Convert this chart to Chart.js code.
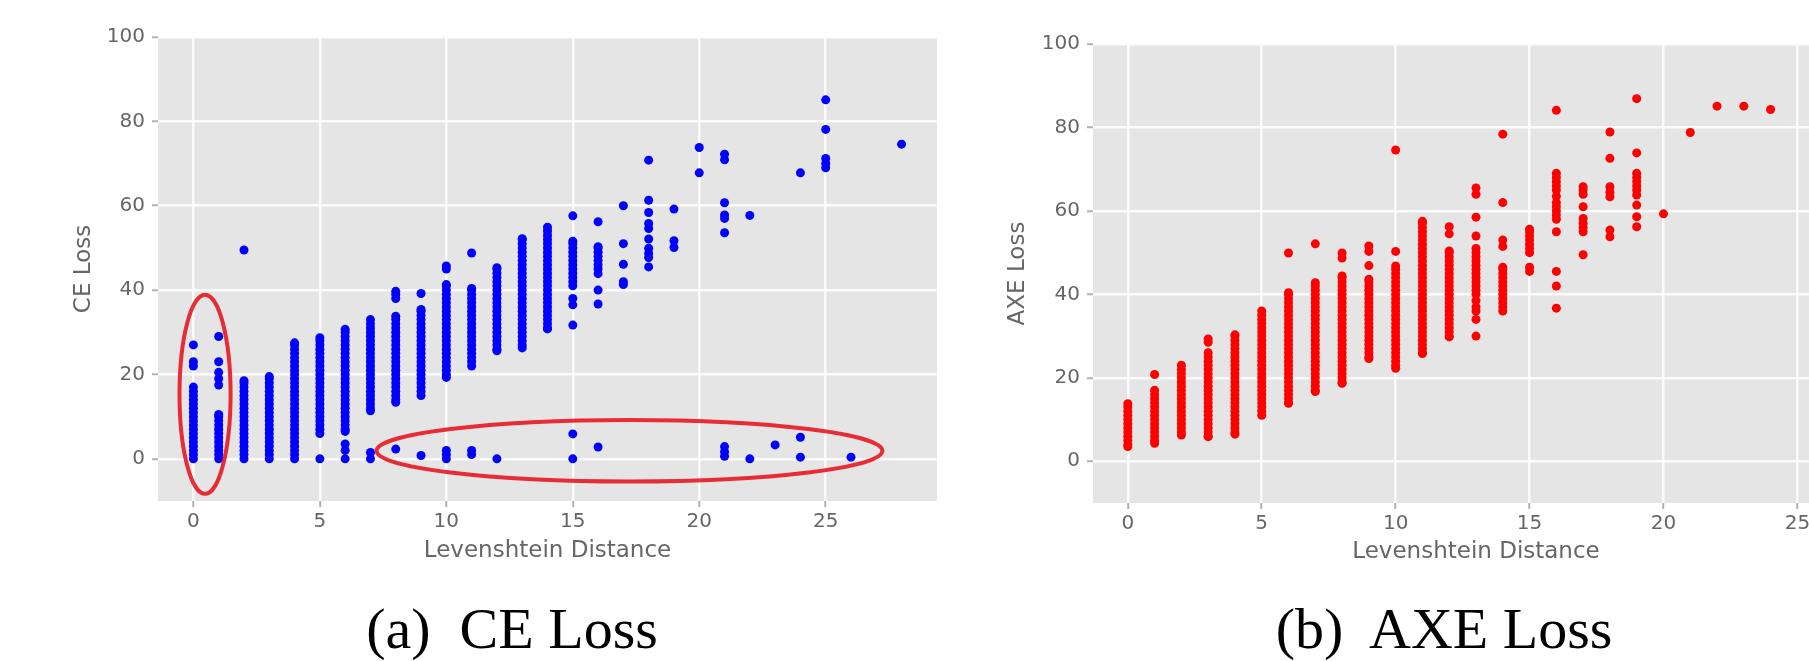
<!DOCTYPE html>
<html>
<head>
<meta charset="utf-8">
<title>CE Loss vs AXE Loss</title>
<script src="https://cdn.jsdelivr.net/npm/chart.js@4.4.1/dist/chart.umd.min.js"></script>
<style>
  html, body { margin: 0; padding: 0; background: #fff; }
  body { width: 1809px; height: 661px; overflow: hidden; position: relative; }
  .panel { position: absolute; top: 0; height: 580px; }
  #left { left: 0; width: 950px; }
  #right { left: 960px; width: 910px; }
  .caption {
    position: absolute; top: 600px; width: 600px; text-align: center;
    font-family: "Liberation Serif", "Times New Roman", serif;
    font-size: 58px; line-height: 58px; white-space: pre; color: #000;
  }
</style>
</head>
<body>
<div class="panel" id="left"><canvas id="ceChart"></canvas></div>
<div class="panel" id="right"><canvas id="axeChart"></canvas></div>
<div class="caption" style="left:212px">(a)  CE Loss</div>
<div class="caption" style="left:1144px">(b)  AXE Loss</div>
<script>
// values, one list of losses per Levenshtein distance
const ceDistance = [0,1,2,3,4,5,6,7,8,9,10,11,12,13,14,15,16,17,18,19,20,21,22,23,24,25,26,28];
const ceLoss = [
  [0,1,2,3,4,5,6,7,8,9,10,11,12,13,14,15,16,17,22,23,27],
  [0,1,2,3,4,5,6,7,8,9,10,10.5,17.5,19,20.5,23,29],
  [0,1,2,3,4,5,6,7,8,9,10,11,12,13,14,15,16,17,18,18.5,49.5],
  [0,1,2,3,4,5,6,7,8,9,10,11,12,13,14,15,16,17,18,19,19.5],
  [0,1,2,3,4,5,6,7,8,9,10,11,12,13,14,15,16,17,18,19,20,21,22,23,24,25,26,27,27.5],
  [0,6,7,8,9,10,11,12,13,14,15,16,17,18,19,20,21,22,23,24,25,26,27,28,28.7],
  [0,2,3.5,6.5,7,8,9,10,11,12,13,14,15,16,17,18,19,20,21,22,23,24,25,26,27,28,29,30,30.7],
  [0,1.5,11.4,12,13,14,15,16,17,18,19,20,21,22,23,24,25,26,27,28,29,30,31,32,33],
  [2.3,13.4,14,15,16,17,18,19,20,21,22,23,24,25,26,27,28,29,30,31,32,33,33.8,38,39,39.7],
  [0.8,15,16,17,18,19,20,21,22,23,24,25,26,27,28,29,30,31,32,33,34,35,35.4,39.2],
  [0,1,2,19.3,20,21,22,23,24,25,26,27,28,29,30,31,32,33,34,35,36,37,38,39,40,41,41.3,45,45.7],
  [1,2,22,23,24,25,26,27,28,29,30,31,32,33,34,35,36,37,38,39,40,40.4,48.8],
  [0,25.6,26,27,28,29,30,31,32,33,34,35,36,37,38,39,40,41,42,43,44,45,45.3],
  [26.3,27,28,29,30,31,32,33,34,35,36,37,38,39,40,41,42,43,44,45,46,47,48,49,50,51,52,52.2],
  [30.8,31,32,33,34,35,36,37,38,39,40,41,42,43,44,45,46,47,48,49,50,51,52,53,54,54.9],
  [0,5.9,31.7,36.5,38,41,42,43,44,45,46,47,48,49,50,51,51.6,57.6],
  [2.8,36.7,40,43.9,45,46,47,48,49,50,50.3,56.2],
  [41.3,42,46.1,51,60],
  [45.5,47.7,48.7,49.9,52.1,54.6,55.8,58.4,61.3,70.8],
  [50.1,51.7,59.2],
  [67.8,73.8],
  [0.6,1.7,2.9,53.6,57,57.8,60.7,70.9,72.2],
  [0,57.7],
  [3.3],
  [0.4,5.1,67.8],
  [69,70,71.2,78.1,85.1],
  [0.4],
  [74.6]
];

const axeDistance = [0,1,2,3,4,5,6,7,8,9,10,11,12,13,14,15,16,17,18,19,20,21,22,23,24];
const axeLoss = [
  [3.5,4,5,6,7,8,9,10,11,12,13,13.8],
  [4.3,5,6,7,8,9,10,11,12,13,14,15,16,17,20.8],
  [6.3,7,8,9,10,11,12,13,14,15,16,17,18,19,20,21,22,23],
  [5.9,6,7,8,9,10,11,12,13,14,15,16,17,18,19,20,21,22,23,24,25,26,28.5,29.3],
  [6.5,7,8,9,10,11,12,13,14,15,16,17,18,19,20,21,22,23,24,25,26,27,28,29,30,30.3],
  [11,12,13,14,15,16,17,18,19,20,21,22,23,24,25,26,27,28,29,30,31,32,33,34,35,36],
  [13.9,14,15,16,17,18,19,20,21,22,23,24,25,26,27,28,29,30,31,32,33,34,35,36,37,38,39,40,40.4,49.9],
  [16.7,17,18,19,20,21,22,23,24,25,26,27,28,29,30,31,32,33,34,35,36,37,38,39,40,41,42,42.8,52.1],
  [18.7,19,20,21,22,23,24,25,26,27,28,29,30,31,32,33,34,35,36,37,38,39,40,41,42,43,44,44.4,48.7,49.9],
  [24.6,25,26,27,28,29,30,31,32,33,34,35,36,37,38,39,40,41,42,43,43.6,46.9,50.3,51.6],
  [22.3,23,24,25,26,27,28,29,30,31,32,33,34,35,36,37,38,39,40,41,42,43,44,45,46,46.8,50.3,74.6],
  [25.8,26,27,28,29,30,31,32,33,34,35,36,37,38,39,40,41,42,43,44,45,46,47,48,49,50,51,52,53,54,55,56,57,57.5],
  [29.8,30,31,32,33,34,35,36,37,38,39,40,41,42,43,44,45,46,47,48,49,50,50.4,54.5,56.2],
  [30,34,36,37,38.5,40,41,42,43,44,45,46,47,48,49,50,51,54,58.5,64,65.5],
  [36,37,38,39,40,41,42,43,44,45,46,46.5,51.5,53,62,78.4],
  [45.5,46.5,50,51,52,53,54,55,55.6],
  [36.7,42,45.5,55,58,59,60,61,62,63.5,65,66,67,68,69,84.1],
  [49.5,55,56,57,58.2,61,64,65,65.8],
  [53.8,55.4,63.4,64.5,65.8,72.6,78.9],
  [56.2,58.6,61.4,63.8,65,66,67,68,69,73.9,86.9],
  [59.3],
  [78.8],
  [85.1],
  [85.1],
  [84.3]
];

const xTicks = [0, 5, 10, 15, 20, 25];
const yTicks = [0, 20, 40, 60, 80, 100];

// red rings drawn on the CE plot (centre and radii in data units)
const ringX = [0.46, 17.24];
const ringY = [15.3, 1.9];
const ringRX = [1.01, 10.0];
const ringRY = [23.6, 7.3];

function toPoints(dist, loss) {
    const pts = [];
    dist.forEach((d, i) => {
        loss[i].forEach(v => pts.push({ x: d, y: v }));
    });
    return pts;
}

const plotBackground = {
    id: 'plotBackground',
    beforeDraw(chart) {
        const { ctx, chartArea: a } = chart;
        ctx.save();
        ctx.fillStyle = '#e5e5e5';
        ctx.fillRect(a.left, a.top, a.right - a.left, a.bottom - a.top);
        ctx.restore();
    }
};

const rings = {
    id: 'rings',
    afterDatasetsDraw(chart, args, opts) {
        if (!opts.show) return;
        const { ctx, scales: { x, y } } = chart;
        ctx.save();
        ctx.strokeStyle = 'rgba(232, 28, 38, 0.92)';
        ctx.lineWidth = 4;
        for (let i = 0; i < ringX.length; i++) {
            const cx = x.getPixelForValue(ringX[i]);
            const cy = y.getPixelForValue(ringY[i]);
            const rx = x.getPixelForValue(ringX[i] + ringRX[i]) - cx;
            const ry = cy - y.getPixelForValue(ringY[i] + ringRY[i]);
            ctx.beginPath();
            ctx.ellipse(cx, cy, rx, ry, 0, 0, Math.PI * 2);
            ctx.stroke();
        }
        ctx.restore();
    }
};

function makeChart(id, p) {
    const tickFont = { family: 'DejaVu Sans', size: 20 };
    const titleFont = { family: 'DejaVu Sans', size: 23 };
    return new Chart(document.getElementById(id), {
        type: 'scatter',
        data: {
            datasets: [{
                data: p.points,
                backgroundColor: p.color,
                pointRadius: 4.5,
                pointBorderWidth: 0,
                pointHoverRadius: 4.5
            }]
        },
        options: {
            responsive: true,
            maintainAspectRatio: false,
            animation: false,
            layout: { padding: { left: 0, top: p.top, right: p.right, bottom: 0 } },
            plugins: {
                legend: { display: false },
                tooltip: { enabled: false },
                rings: { show: p.rings }
            },
            scales: {
                x: {
                    type: 'linear',
                    min: p.xMin,
                    max: p.xMax,
                    afterBuildTicks: s => { s.ticks = xTicks.map(v => ({ value: v })); },
                    afterFit: s => { s.height = p.xAxisHeight; },
                    border: { display: false },
                    grid: { color: 'rgba(255,255,255,0.85)', lineWidth: 2.5, tickColor: '#b0b0b0', tickLength: 6, tickWidth: 2 },
                    ticks: { color: '#666', font: tickFont, padding: p.xTickPad, maxRotation: 0 },
                    title: { display: true, text: 'Levenshtein Distance', color: '#666', font: titleFont, padding: { top: 0, bottom: p.xTitlePad } }
                },
                y: {
                    type: 'linear',
                    min: -10,
                    max: 100,
                    afterBuildTicks: s => { s.ticks = yTicks.map(v => ({ value: v })); },
                    afterFit: s => { s.width = p.yAxisWidth; },
                    border: { display: false },
                    grid: { color: 'rgba(255,255,255,0.85)', lineWidth: 2.5, tickColor: '#b0b0b0', tickLength: 6, tickWidth: 2 },
                    ticks: { color: '#666', font: tickFont, padding: 7 },
                    title: { display: true, text: p.yTitle, color: '#666', font: titleFont, padding: { top: p.yTitlePad, bottom: 0 } }
                }
            }
        },
        plugins: [plotBackground, rings]
    });
}

makeChart('ceChart', {
    points: toPoints(ceDistance, ceLoss),
    color: '#0000ff',
    yTitle: 'CE Loss',
    rings: true,
    xMin: -1.4, xMax: 29.4,
    top: 37, right: 13,
    yAxisWidth: 158, xAxisHeight: 79,
    xTickPad: 3, xTitlePad: 15, yTitlePad: 70
});

makeChart('axeChart', {
    points: toPoints(axeDistance, axeLoss),
    color: '#ff0000',
    yTitle: 'AXE Loss',
    rings: false,
    xMin: -1.3, xMax: 27.3,
    top: 44, right: 11,
    yAxisWidth: 133, xAxisHeight: 77,
    xTickPad: 3, xTitlePad: 14, yTitlePad: 44
});
</script>
</body>
</html>
